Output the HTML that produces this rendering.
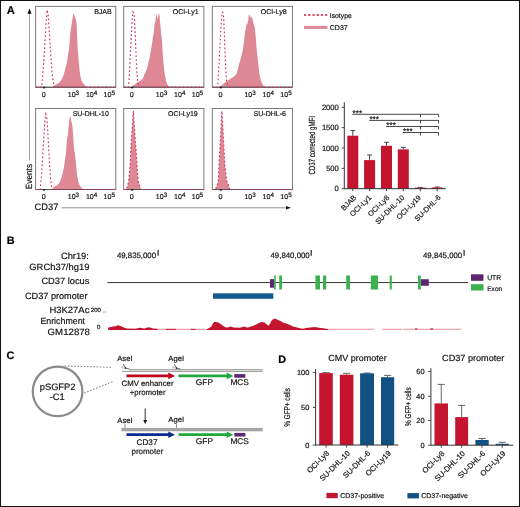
<!DOCTYPE html>
<html><head><meta charset="utf-8"><style>
html,body{margin:0;padding:0;background:#fff;}
svg{display:block;will-change:transform;}
text{font-family:"Liberation Sans",sans-serif;text-rendering:geometricPrecision;stroke:#111;stroke-width:0.18px;}
</style></head><body>
<svg width="520" height="507" viewBox="0 0 520 507">
<rect width="520" height="507" fill="#fff"/>
<text x="6.8" y="14.2" font-size="11.2" font-weight="bold" font-family="Liberation Sans, sans-serif">A</text>
<line x1="29.5" y1="13" x2="29.5" y2="160.5" stroke="#888" stroke-width="0.8"/>
<polygon points="27.4,13.8 29.5,8.6 31.6,13.8" fill="#111"/>
<text transform="translate(32.1,189.2) rotate(-90)" font-size="9" textLength="25.2" lengthAdjust="spacingAndGlyphs" font-family="Liberation Sans, sans-serif" fill="#111">Events</text>
<text x="34.6" y="210.3" font-size="9.3" font-family="Liberation Sans, sans-serif" fill="#111">CD37</text>
<line x1="61.5" y1="207.8" x2="287" y2="207.8" stroke="#777" stroke-width="0.8"/>
<polygon points="286,206.1 291,207.8 286,209.5" fill="#111"/>
<polygon points="51.8,87 54.4,85.4 58.4,83.2 61.1,80.5 63.3,76.1 64.6,71.6 66.9,62.7 68.2,53.9 69.1,48.6 69.7,41.1 70.3,32.9 71.6,24.6 72.6,17.9 73.0,14.5 73.4,13.4 73.9,14.5 74.3,15.5 75.2,17.5 76.1,20.4 76.7,24.6 77,32.9 77.3,41.1 77.6,48.6 78.2,53.9 78.8,62.7 79.7,71.6 80.3,76.1 81.5,80.5 83,83.2 85,85.4 87.3,87" fill="#de8795"/>
<rect x="35.6" y="6.4" width="80.2" height="80.8" fill="none" stroke="#7a7a7a" stroke-width="1"/>
<line x1="35.6" y1="87.2" x2="115.80000000000001" y2="87.2" stroke="#555" stroke-width="1.1"/>
<polyline points="35.6,87.2 41.5,87 42.8,75 44,58 45.2,38 46.3,20 47.2,9.9 48.3,16 49.5,35 50.7,55 52,72 53.2,82 54.5,87 115.80000000000001,87.2" fill="none" stroke="#d43258" stroke-width="1.15" stroke-dasharray="1.7,2.3"/>
<rect x="43.1" y="86.9" width="2" height="1.4" fill="#111"/>
<text x="94.2" y="13.5" font-size="7" font-family="Liberation Sans, sans-serif" fill="#111">BJAB</text>
<text x="41.7" y="96.5" font-size="7.2" font-family="Liberation Sans, sans-serif" fill="#111">0</text>
<text x="67.7" y="96.5" font-size="7.1" font-family="Liberation Sans, sans-serif" fill="#111">10<tspan font-size="6.3" dy="-1.8">3</tspan></text>
<text x="85.9" y="96.5" font-size="7.1" font-family="Liberation Sans, sans-serif" fill="#111">10<tspan font-size="6.3" dy="-1.8">4</tspan></text>
<text x="103.6" y="96.5" font-size="7.1" font-family="Liberation Sans, sans-serif" fill="#111">10<tspan font-size="6.3" dy="-1.8">5</tspan></text>
<polygon points="130.8,87 134.6,84.4 137.5,82.5 140.9,80.6 143.3,77.7 144.2,74.8 145.2,72.9 146.9,69 148.1,64.2 150.2,54.6 151.3,48.6 152.4,41.1 153.7,32.9 154.5,24.6 155.6,20.4 156.0,15 156.4,13.6 157.0,16.5 157.6,18.8 158.4,15.5 159.2,13.1 159.6,16 159.9,20.4 160.3,24.6 161.1,32.9 162,41.1 162.4,48.6 162.8,54.6 163.6,64.2 164.6,72.9 165.9,80.6 167.3,84.4 169.2,87" fill="#de8795"/>
<rect x="123.7" y="6.4" width="80.2" height="80.8" fill="none" stroke="#7a7a7a" stroke-width="1"/>
<line x1="123.7" y1="87.2" x2="203.9" y2="87.2" stroke="#555" stroke-width="1.1"/>
<polyline points="123.7,87.2 128.6,87 129.6,70 130.6,50 131.6,30 132.4,17 132.9,11.8 133.8,13 134.5,18 135.3,35 136.1,55 136.9,72 137.7,82 138.6,87 203.9,87.2" fill="none" stroke="#d43258" stroke-width="1.15" stroke-dasharray="1.7,2.3"/>
<rect x="131.2" y="86.9" width="2" height="1.4" fill="#111"/>
<text x="172.8" y="13.5" font-size="7" font-family="Liberation Sans, sans-serif" fill="#111">OCI-Ly1</text>
<text x="129.8" y="96.5" font-size="7.2" font-family="Liberation Sans, sans-serif" fill="#111">0</text>
<text x="155.8" y="96.5" font-size="7.1" font-family="Liberation Sans, sans-serif" fill="#111">10<tspan font-size="6.3" dy="-1.8">3</tspan></text>
<text x="174.0" y="96.5" font-size="7.1" font-family="Liberation Sans, sans-serif" fill="#111">10<tspan font-size="6.3" dy="-1.8">4</tspan></text>
<text x="191.7" y="96.5" font-size="7.1" font-family="Liberation Sans, sans-serif" fill="#111">10<tspan font-size="6.3" dy="-1.8">5</tspan></text>
<polygon points="218.5,87 221.3,85.4 223.7,83.5 226.5,81.5 230.4,78.7 233.75,76.7 236.6,73.8 238,69 239,64.2 240.5,59.4 242.9,49.8 243.5,45 244.1,41.1 244.9,32.9 246,27 246.6,24.6 247.3,23.7 248.3,20.4 248.6,16 249.1,14.6 249.8,15.2 250.6,17.5 251.3,17.3 252,17.9 252.6,18.5 252.8,20.4 254.9,28.3 255.7,37 256.3,45 257.3,54.6 258.3,64.2 259.4,73.8 260.4,78.7 262.1,83.5 264,86.3 265.5,87" fill="#de8795"/>
<rect x="212.3" y="6.4" width="80.2" height="80.8" fill="none" stroke="#7a7a7a" stroke-width="1"/>
<line x1="212.3" y1="87.2" x2="292.5" y2="87.2" stroke="#555" stroke-width="1.1"/>
<polyline points="212.3,87.2 217.6,87 218.6,72 219.6,52 220.6,33 221.5,19 222.3,12.2 223.1,13 223.7,18 224.4,35 225.1,55 225.9,72 226.7,82 227.8,87 292.5,87.2" fill="none" stroke="#d43258" stroke-width="1.15" stroke-dasharray="1.7,2.3"/>
<rect x="219.8" y="86.9" width="2" height="1.4" fill="#111"/>
<text x="260.8" y="13.5" font-size="7" font-family="Liberation Sans, sans-serif" fill="#111">OCI-Ly8</text>
<text x="218.4" y="96.5" font-size="7.2" font-family="Liberation Sans, sans-serif" fill="#111">0</text>
<text x="244.4" y="96.5" font-size="7.1" font-family="Liberation Sans, sans-serif" fill="#111">10<tspan font-size="6.3" dy="-1.8">3</tspan></text>
<text x="262.6" y="96.5" font-size="7.1" font-family="Liberation Sans, sans-serif" fill="#111">10<tspan font-size="6.3" dy="-1.8">4</tspan></text>
<text x="280.3" y="96.5" font-size="7.1" font-family="Liberation Sans, sans-serif" fill="#111">10<tspan font-size="6.3" dy="-1.8">5</tspan></text>
<polygon points="52.1,189.5 53.9,186.9 57.4,185.2 59.6,182.5 61.4,178 62.7,173.6 64.3,164.7 65.6,155.9 66.2,150.6 66.6,143.1 67.8,134.9 68.7,126.6 69.1,122.4 69.7,118 70.3,115.8 70.8,118 71.2,120.8 72.4,125.7 73.1,134.9 73.6,143.1 74.3,150.6 75.2,155.9 76.1,164.7 76.9,173.6 77.7,178 78.5,182.5 79.6,185.2 80.9,186.9 83.2,189.5" fill="#de8795"/>
<rect x="35.6" y="108.5" width="80.2" height="81.0" fill="none" stroke="#7a7a7a" stroke-width="1"/>
<line x1="35.6" y1="189.5" x2="115.80000000000001" y2="189.5" stroke="#555" stroke-width="1.1"/>
<polyline points="35.6,189.5 40.2,189.5 41.3,177 42.5,160 43.7,140 44.8,122 45.7,114 46.6,116 47.5,127 48.5,145 49.5,163 50.5,178 51.6,186.5 53,189.5 115.80000000000001,189.5" fill="none" stroke="#d43258" stroke-width="1.15" stroke-dasharray="1.7,2.3"/>
<rect x="43.1" y="189.2" width="2" height="1.4" fill="#111"/>
<text x="72.7" y="115.5" font-size="7" font-family="Liberation Sans, sans-serif" fill="#111">SU-DHL-10</text>
<text x="41.7" y="198.8" font-size="7.2" font-family="Liberation Sans, sans-serif" fill="#111">0</text>
<text x="67.7" y="198.8" font-size="7.1" font-family="Liberation Sans, sans-serif" fill="#111">10<tspan font-size="6.3" dy="-1.8">3</tspan></text>
<text x="85.9" y="198.8" font-size="7.1" font-family="Liberation Sans, sans-serif" fill="#111">10<tspan font-size="6.3" dy="-1.8">4</tspan></text>
<text x="103.6" y="198.8" font-size="7.1" font-family="Liberation Sans, sans-serif" fill="#111">10<tspan font-size="6.3" dy="-1.8">5</tspan></text>
<polygon points="126.5,189.5 127.6,185.8 128.8,180.8 130,166 131.3,141 132.4,125 133.4,111 134.3,125 135.4,141 137.1,166 138.2,180.8 139.6,185.8 141,189.5" fill="#de8795"/>
<rect x="123.7" y="108.5" width="80.2" height="81.0" fill="none" stroke="#7a7a7a" stroke-width="1"/>
<line x1="123.7" y1="189.5" x2="203.9" y2="189.5" stroke="#555" stroke-width="1.1"/>
<polyline points="123.7,189.5 126.5,189.5 127.6,185.8 128.8,180.8 130,166 131.3,141 132.4,125 133.4,111 134.3,125 135.4,141 137.1,166 138.2,180.8 139.6,185.8 141,189.5 203.9,189.5" fill="none" stroke="#d43258" stroke-width="1.15" stroke-dasharray="1.7,2.3"/>
<rect x="131.2" y="189.2" width="2" height="1.4" fill="#111"/>
<text x="168.0" y="115.5" font-size="7" font-family="Liberation Sans, sans-serif" fill="#111">OCI-Ly19</text>
<text x="129.8" y="198.8" font-size="7.2" font-family="Liberation Sans, sans-serif" fill="#111">0</text>
<text x="155.8" y="198.8" font-size="7.1" font-family="Liberation Sans, sans-serif" fill="#111">10<tspan font-size="6.3" dy="-1.8">3</tspan></text>
<text x="174.0" y="198.8" font-size="7.1" font-family="Liberation Sans, sans-serif" fill="#111">10<tspan font-size="6.3" dy="-1.8">4</tspan></text>
<text x="191.7" y="198.8" font-size="7.1" font-family="Liberation Sans, sans-serif" fill="#111">10<tspan font-size="6.3" dy="-1.8">5</tspan></text>
<polygon points="215.5,189.5 217,185.8 218.3,180.8 219,166 220.3,141 221.2,125 221.9,111 222.7,125 223.6,141 224.9,166 226.6,180.8 228.6,185.8 230,189.5" fill="#de8795"/>
<rect x="212.3" y="108.5" width="80.2" height="81.0" fill="none" stroke="#7a7a7a" stroke-width="1"/>
<line x1="212.3" y1="189.5" x2="292.5" y2="189.5" stroke="#555" stroke-width="1.1"/>
<polyline points="212.3,189.5 215.5,189.5 217,185.8 218.3,180.8 219,166 220.3,141 221.2,125 221.9,111 222.7,125 223.6,141 224.9,166 226.6,180.8 228.6,185.8 230,189.5 292.5,189.5" fill="none" stroke="#d43258" stroke-width="1.15" stroke-dasharray="1.7,2.3"/>
<rect x="219.8" y="189.2" width="2" height="1.4" fill="#111"/>
<text x="253.6" y="115.5" font-size="7" font-family="Liberation Sans, sans-serif" fill="#111">SU-DHL-6</text>
<text x="218.4" y="198.8" font-size="7.2" font-family="Liberation Sans, sans-serif" fill="#111">0</text>
<text x="244.4" y="198.8" font-size="7.1" font-family="Liberation Sans, sans-serif" fill="#111">10<tspan font-size="6.3" dy="-1.8">3</tspan></text>
<text x="262.6" y="198.8" font-size="7.1" font-family="Liberation Sans, sans-serif" fill="#111">10<tspan font-size="6.3" dy="-1.8">4</tspan></text>
<text x="280.3" y="198.8" font-size="7.1" font-family="Liberation Sans, sans-serif" fill="#111">10<tspan font-size="6.3" dy="-1.8">5</tspan></text>
<line x1="304" y1="15.05" x2="327.4" y2="15.05" stroke="#d85870" stroke-width="2.1" stroke-dasharray="2.3,1.9"/>
<text x="329.8" y="17.7" font-size="6.8" font-family="Liberation Sans, sans-serif" fill="#111">Isotype</text>
<rect x="304" y="25.9" width="23.5" height="3" fill="#de8795"/>
<text x="329.8" y="30.4" font-size="7" font-family="Liberation Sans, sans-serif" fill="#111">CD37</text>
<text transform="translate(314.8,145.3) rotate(-90)" font-size="8.9" text-anchor="middle" textLength="58.5" lengthAdjust="spacingAndGlyphs" font-family="Liberation Sans, sans-serif" fill="#111">CD37 corrected gMFI</text>
<line x1="341.6" y1="188.70" x2="344.3" y2="188.70" stroke="#333" stroke-width="0.9"/>
<text x="338.8" y="191.40" font-size="7.6" text-anchor="end" font-family="Liberation Sans, sans-serif" fill="#111">0</text>
<line x1="341.6" y1="168.35" x2="344.3" y2="168.35" stroke="#333" stroke-width="0.9"/>
<text x="338.8" y="171.05" font-size="7.6" text-anchor="end" font-family="Liberation Sans, sans-serif" fill="#111">500</text>
<line x1="341.6" y1="148.00" x2="344.3" y2="148.00" stroke="#333" stroke-width="0.9"/>
<text x="338.8" y="150.70" font-size="7.6" text-anchor="end" font-family="Liberation Sans, sans-serif" fill="#111">1000</text>
<line x1="341.6" y1="127.65" x2="344.3" y2="127.65" stroke="#333" stroke-width="0.9"/>
<text x="338.8" y="130.35" font-size="7.6" text-anchor="end" font-family="Liberation Sans, sans-serif" fill="#111">1500</text>
<line x1="341.6" y1="107.30" x2="344.3" y2="107.30" stroke="#333" stroke-width="0.9"/>
<text x="338.8" y="110.00" font-size="7.6" text-anchor="end" font-family="Liberation Sans, sans-serif" fill="#111">2000</text>
<line x1="352.8" y1="130.6" x2="352.8" y2="135.7" stroke="#333" stroke-width="0.9"/>
<line x1="350.40000000000003" y1="130.6" x2="355.2" y2="130.6" stroke="#333" stroke-width="0.9"/>
<rect x="347.3" y="135.7" width="11" height="53.0" fill="#c4142f"/>
<line x1="369.6" y1="155.0" x2="369.6" y2="160.1" stroke="#333" stroke-width="0.9"/>
<line x1="367.20000000000005" y1="155.0" x2="372.0" y2="155.0" stroke="#333" stroke-width="0.9"/>
<rect x="364.1" y="160.1" width="11" height="28.599999999999994" fill="#c4142f"/>
<line x1="386.5" y1="142.3" x2="386.5" y2="145.8" stroke="#333" stroke-width="0.9"/>
<line x1="384.1" y1="142.3" x2="388.9" y2="142.3" stroke="#333" stroke-width="0.9"/>
<rect x="381.0" y="145.8" width="11" height="42.89999999999998" fill="#c4142f"/>
<line x1="403.3" y1="147.4" x2="403.3" y2="149.4" stroke="#333" stroke-width="0.9"/>
<line x1="400.90000000000003" y1="147.4" x2="405.7" y2="147.4" stroke="#333" stroke-width="0.9"/>
<rect x="397.8" y="149.4" width="11" height="39.29999999999998" fill="#c4142f"/>
<line x1="420.3" y1="187.4" x2="420.3" y2="187.6" stroke="#333" stroke-width="0.9"/>
<line x1="417.90000000000003" y1="187.4" x2="422.7" y2="187.4" stroke="#333" stroke-width="0.9"/>
<rect x="414.8" y="187.6" width="11" height="1.0999999999999943" fill="#c4142f"/>
<line x1="437.2" y1="187.0" x2="437.2" y2="187.4" stroke="#333" stroke-width="0.9"/>
<line x1="434.8" y1="187.0" x2="439.59999999999997" y2="187.0" stroke="#333" stroke-width="0.9"/>
<rect x="431.7" y="187.4" width="11" height="1.299999999999983" fill="#c4142f"/>
<line x1="344.3" y1="102.3" x2="344.3" y2="189.2" stroke="#333" stroke-width="1"/>
<line x1="344.3" y1="188.7" x2="445.8" y2="188.7" stroke="#333" stroke-width="1"/>
<line x1="352.8" y1="188.7" x2="352.8" y2="191.2" stroke="#333" stroke-width="0.9"/>
<text transform="translate(356.8,198.0) rotate(-45)" font-size="7.3" text-anchor="end" font-family="Liberation Sans, sans-serif" fill="#111">BJAB</text>
<line x1="369.6" y1="188.7" x2="369.6" y2="191.2" stroke="#333" stroke-width="0.9"/>
<text transform="translate(371.8,198.0) rotate(-45)" font-size="7.3" text-anchor="end" font-family="Liberation Sans, sans-serif" fill="#111">OCI-Ly1</text>
<line x1="386.5" y1="188.7" x2="386.5" y2="191.2" stroke="#333" stroke-width="0.9"/>
<text transform="translate(389.8,198.0) rotate(-45)" font-size="7.3" text-anchor="end" font-family="Liberation Sans, sans-serif" fill="#111">OCI-Ly8</text>
<line x1="403.3" y1="188.7" x2="403.3" y2="191.2" stroke="#333" stroke-width="0.9"/>
<text transform="translate(404.8,198.0) rotate(-45)" font-size="7.3" text-anchor="end" font-family="Liberation Sans, sans-serif" fill="#111">SU-DHL-10</text>
<line x1="420.3" y1="188.7" x2="420.3" y2="191.2" stroke="#333" stroke-width="0.9"/>
<text transform="translate(421.5,198.0) rotate(-45)" font-size="7.3" text-anchor="end" font-family="Liberation Sans, sans-serif" fill="#111">OCI-Ly19</text>
<line x1="437.2" y1="188.7" x2="437.2" y2="191.2" stroke="#333" stroke-width="0.9"/>
<text transform="translate(441.2,198.0) rotate(-45)" font-size="7.3" text-anchor="end" font-family="Liberation Sans, sans-serif" fill="#111">SU-DHL-6</text>
<path d="M352.3,114.3 H438.5 V117.3 M420.5,114.3 V117.3" fill="none" stroke="#333" stroke-width="0.9"/>
<text x="352.6" y="116.0" font-size="8.2" font-family="Liberation Sans, sans-serif" fill="#111">***</text>
<path d="M369.1,120.4 H438.5 V123.4 M420.5,120.4 V123.4" fill="none" stroke="#333" stroke-width="0.9"/>
<text x="369.40000000000003" y="122.10000000000001" font-size="8.2" font-family="Liberation Sans, sans-serif" fill="#111">***</text>
<path d="M386.0,126.5 H438.5 V129.5 M420.5,126.5 V129.5" fill="none" stroke="#333" stroke-width="0.9"/>
<text x="386.3" y="128.2" font-size="8.2" font-family="Liberation Sans, sans-serif" fill="#111">***</text>
<path d="M402.8,132.5 H438.5 V135.5 M420.5,132.5 V135.5" fill="none" stroke="#333" stroke-width="0.9"/>
<text x="403.1" y="134.2" font-size="8.2" font-family="Liberation Sans, sans-serif" fill="#111">***</text>
<text x="6.7" y="243.9" font-size="10.9" font-weight="bold" font-family="Liberation Sans, sans-serif">B</text>
<text x="60.9" y="258.8" font-size="9.1" textLength="28.0" lengthAdjust="spacingAndGlyphs" font-family="Liberation Sans, sans-serif" fill="#111">Chr19:</text>
<text x="29.3" y="269.6" font-size="9.1" textLength="60.1" lengthAdjust="spacingAndGlyphs" font-family="Liberation Sans, sans-serif" fill="#111">GRCh37/hg19</text>
<text x="41.4" y="283.6" font-size="9.1" textLength="48.0" lengthAdjust="spacingAndGlyphs" font-family="Liberation Sans, sans-serif" fill="#111">CD37 locus</text>
<text x="25.0" y="298.8" font-size="9.1" textLength="62.5" lengthAdjust="spacingAndGlyphs" font-family="Liberation Sans, sans-serif" fill="#111">CD37 promoter</text>
<text x="49.5" y="312.6" font-size="9.1" textLength="39.9" lengthAdjust="spacingAndGlyphs" font-family="Liberation Sans, sans-serif" fill="#111">H3K27Ac</text>
<text x="40.4" y="323.9" font-size="9.1" textLength="44.6" lengthAdjust="spacingAndGlyphs" font-family="Liberation Sans, sans-serif" fill="#111">Enrichment</text>
<text x="47.6" y="335.3" font-size="9.1" textLength="42.4" lengthAdjust="spacingAndGlyphs" font-family="Liberation Sans, sans-serif" fill="#111">GM12878</text>
<text x="90.8" y="311.5" font-size="6" font-family="Liberation Sans, sans-serif" fill="#111">200</text>
<line x1="102.6" y1="312.0" x2="106" y2="312.0" stroke="#999" stroke-width="0.8"/>
<text x="97" y="328.5" font-size="6" font-family="Liberation Sans, sans-serif" fill="#111">0</text>
<text x="116.9" y="257.6" font-size="7.8" textLength="39.2" lengthAdjust="spacingAndGlyphs" font-family="Liberation Sans, sans-serif" fill="#111">49,835,000</text>
<line x1="158.10000000000002" y1="250.0" x2="158.10000000000002" y2="255.8" stroke="#333" stroke-width="1.3"/>
<text x="270.5" y="258.3" font-size="7.8" textLength="39.2" lengthAdjust="spacingAndGlyphs" font-family="Liberation Sans, sans-serif" fill="#111">49,840,000</text>
<line x1="311.2" y1="250.0" x2="311.2" y2="255.8" stroke="#333" stroke-width="1.3"/>
<text x="423.0" y="257.8" font-size="7.8" textLength="39.2" lengthAdjust="spacingAndGlyphs" font-family="Liberation Sans, sans-serif" fill="#111">49,845,000</text>
<line x1="464.1" y1="250.0" x2="464.1" y2="255.8" stroke="#333" stroke-width="1.3"/>
<line x1="107.4" y1="282.6" x2="468.1" y2="282.6" stroke="#333" stroke-width="1"/>
<rect x="270" y="279.1" width="4.2" height="8.6" fill="#5c2770"/>
<rect x="420.8" y="279.2" width="8" height="6.6" fill="#5c2770"/>
<rect x="274.2" y="275.5" width="1.6" height="14" fill="#3bb24e"/>
<rect x="279.2" y="275.5" width="2.8" height="14" fill="#3bb24e"/>
<rect x="315.4" y="275.5" width="4.6" height="14" fill="#3bb24e"/>
<rect x="323" y="275.5" width="3.2" height="14" fill="#3bb24e"/>
<rect x="346.2" y="275.5" width="3.8" height="14" fill="#3bb24e"/>
<rect x="370.8" y="275.5" width="7.2" height="14" fill="#3bb24e"/>
<rect x="389.7" y="275.5" width="2.1" height="14" fill="#3bb24e"/>
<rect x="418" y="275.5" width="2.8" height="14" fill="#3bb24e"/>
<rect x="471" y="274.3" width="12.5" height="6.5" fill="#5c2770"/>
<rect x="471" y="284.2" width="12.5" height="6.3" fill="#3bb24e"/>
<text x="487.2" y="280.4" font-size="6.8" font-family="Liberation Sans, sans-serif" fill="#111">UTR</text>
<text x="487.2" y="290.5" font-size="6.6" font-family="Liberation Sans, sans-serif" fill="#111">Exon</text>
<rect x="213" y="293.3" width="60.3" height="5.5" fill="#155a8c"/>
<polygon points="108.1,329.9 108.1,328.5 108.8,327.3 111.2,326.9 112.7,326.5 114.2,326.2 115,326.5 116.5,325.8 118.5,325.2 119.6,325.8 121.2,326.2 122.7,326.9 125,328 127,328.6 135,328.7 137.5,328.3 140.4,327.8 142.5,328.3 144.5,328.6 146.5,327.8 149,327.3 151,327.8 153,328.5 157.7,328.7 157.7,329.9" fill="#c4142f"/>
<polygon points="165.4,329.9 165.4,328.8 176,328.8 176,329.9" fill="#c4142f"/>
<polygon points="190.4,329.9 190.4,328.8 195.8,328.8 195.8,329.9" fill="#c4142f"/>
<polygon points="205.8,329.9 206,329.5 208.6,328.3 211.5,326.4 213,323.3 214.4,322.1 216.3,321.9 218.3,322.6 220.2,323.7 222.1,325 224,326.4 226,327.6 228.8,327.2 230.7,326.6 233.6,327.6 240,327.7 244,326.6 247,327.4 248,327.4 251,326.4 254,325.5 257,324 260,322.6 262,321.9 264.4,322.4 266.3,324 268.2,325.7 270,324 271,321.4 273,319.2 275,318.5 277,319.5 280,320.8 283,322.4 287,323.7 290,325 293,326.4 296,327.2 300,328.3 303,328.8 306,327.9 310,327.4 315,327.1 319,327.7 323,328.3 328,329 328,329.9" fill="#c4142f"/>
<line x1="157.7" y1="329.29999999999995" x2="165.4" y2="329.29999999999995" stroke="#e8919f" stroke-width="1.1"/>
<line x1="176" y1="329.29999999999995" x2="190.4" y2="329.29999999999995" stroke="#e8919f" stroke-width="1.1"/>
<line x1="195.8" y1="329.29999999999995" x2="205.4" y2="329.29999999999995" stroke="#e8919f" stroke-width="1.1"/>
<line x1="328" y1="329.29999999999995" x2="374.2" y2="329.29999999999995" stroke="#e8919f" stroke-width="1.1"/>
<line x1="382.5" y1="329.29999999999995" x2="401.7" y2="329.29999999999995" stroke="#e8919f" stroke-width="1.1"/>
<line x1="403" y1="329.29999999999995" x2="461.3" y2="329.29999999999995" stroke="#e8919f" stroke-width="1.1"/>
<rect x="415" y="328.5" width="2.4" height="1.1" fill="#c4142f"/>
<rect x="430.2" y="328.5" width="2.8" height="1.1" fill="#c4142f"/>
<text x="6.4" y="359.0" font-size="10.9" font-weight="bold" font-family="Liberation Sans, sans-serif">C</text>
<circle cx="57.6" cy="391.4" r="24.8" fill="none" stroke="#8a8a8a" stroke-width="2.2"/>
<text x="57.6" y="389.6" font-size="9.3" text-anchor="middle" font-family="Liberation Sans, sans-serif" fill="#111">pSGFP2</text>
<text x="57.2" y="399.5" font-size="9.3" text-anchor="middle" font-family="Liberation Sans, sans-serif" fill="#111">-C1</text>
<line x1="64.6" y1="366" x2="111" y2="367.3" stroke="#555" stroke-width="0.8" stroke-dasharray="1.6,1.6"/>
<line x1="84.2" y1="393" x2="113" y2="381.5" stroke="#555" stroke-width="0.8" stroke-dasharray="1.6,1.6"/>
<rect x="129" y="369.1" width="133.7" height="2.9" fill="#e0e0e0"/>
<line x1="129" y1="369.6" x2="262.7" y2="369.6" stroke="#999" stroke-width="0.9"/>
<line x1="121.8" y1="371.5" x2="262.7" y2="371.5" stroke="#999" stroke-width="0.9"/>
<polygon points="126.5,374.5 168.3,374.5 168.3,372.59999999999997 175,375.9 168.3,379.2 168.3,377.29999999999995 126.5,377.29999999999995" fill="#c0031f"/>
<polygon points="178.5,374.5 226.70000000000002,374.5 226.70000000000002,372.59999999999997 233.4,375.9 226.70000000000002,379.2 226.70000000000002,377.29999999999995 178.5,377.29999999999995" fill="#22a83a"/>
<rect x="234.3" y="374.09999999999997" width="11.1" height="3.6" fill="#5c2770"/>
<rect x="121.5" y="428.09999999999997" width="141.2" height="3.0" fill="#a8a8a8"/>
<line x1="121.5" y1="428.4" x2="262.7" y2="428.4" stroke="#999" stroke-width="0.6"/>
<line x1="121.5" y1="430.8" x2="262.7" y2="430.8" stroke="#999" stroke-width="0.6"/>
<polygon points="126.5,433.3 168.3,433.3 168.3,431.4 175,434.7 168.3,438.0 168.3,436.09999999999997 126.5,436.09999999999997" fill="#0a2a8e"/>
<polygon points="178.5,433.3 226.70000000000002,433.3 226.70000000000002,431.4 233.4,434.7 226.70000000000002,438.0 226.70000000000002,436.09999999999997 178.5,436.09999999999997" fill="#22a83a"/>
<rect x="234.3" y="432.9" width="11.1" height="3.6" fill="#5c2770"/>
<text x="117.2" y="360.8" font-size="7.7" font-family="Liberation Sans, sans-serif" fill="#111">AseI</text>
<text x="168.3" y="360.8" font-size="7.7" font-family="Liberation Sans, sans-serif" fill="#111">AgeI</text>
<text x="117.3" y="422.9" font-size="7.7" font-family="Liberation Sans, sans-serif" fill="#111">AseI</text>
<text x="168.3" y="421.9" font-size="7.7" font-family="Liberation Sans, sans-serif" fill="#111">AgeI</text>
<path d="M123.2,363.9 L125.6,368.3 L129.5,368.9" stroke="#444" stroke-width="0.75" fill="none"/>
<circle cx="122.4" cy="367.2" r="0.9" fill="none" stroke="#999" stroke-width="0.6"/>
<circle cx="125.4" cy="368.0" r="0.85" fill="#111"/>
<path d="M174.2,363.9 L176.6,368.3 L180.5,368.9" stroke="#444" stroke-width="0.75" fill="none"/>
<circle cx="173.4" cy="367.2" r="0.9" fill="none" stroke="#999" stroke-width="0.6"/>
<circle cx="176.4" cy="368.0" r="0.85" fill="#111"/>
<line x1="125" y1="424.3" x2="125" y2="427.8" stroke="#555" stroke-width="0.7"/>
<line x1="176.5" y1="424.3" x2="176.5" y2="427.8" stroke="#555" stroke-width="0.7"/>
<line x1="145.2" y1="408.5" x2="145.2" y2="421" stroke="#111" stroke-width="0.9"/>
<polygon points="143.3,420 147.1,420 145.2,424" fill="#111"/>
<text x="121.5" y="385.8" font-size="7.8" font-family="Liberation Sans, sans-serif" fill="#111">CMV enhancer</text>
<text x="129.8" y="394.8" font-size="7.8" font-family="Liberation Sans, sans-serif" fill="#111">+promoter</text>
<text x="195.8" y="385.4" font-size="8.4" font-family="Liberation Sans, sans-serif" fill="#111">GFP</text>
<text x="230.4" y="385.4" font-size="8.3" font-family="Liberation Sans, sans-serif" fill="#111">MCS</text>
<text x="195.8" y="444.3" font-size="8.4" font-family="Liberation Sans, sans-serif" fill="#111">GFP</text>
<text x="230.4" y="444.3" font-size="8.3" font-family="Liberation Sans, sans-serif" fill="#111">MCS</text>
<text x="136.5" y="444.6" font-size="8.2" font-family="Liberation Sans, sans-serif" fill="#111">CD37</text>
<text x="131.5" y="453.9" font-size="8.0" textLength="31.8" lengthAdjust="spacingAndGlyphs" font-family="Liberation Sans, sans-serif" fill="#111">promoter</text>
<text x="278.2" y="362.9" font-size="10.8" font-weight="bold" font-family="Liberation Sans, sans-serif">D</text>
<text x="328.2" y="361.4" font-size="8.9" textLength="58.5" lengthAdjust="spacingAndGlyphs" font-family="Liberation Sans, sans-serif" fill="#111">CMV promoter</text>
<text transform="translate(290.4,407.4) rotate(-90)" font-size="8.5" text-anchor="middle" textLength="38.6" lengthAdjust="spacingAndGlyphs" font-family="Liberation Sans, sans-serif" fill="#111">% GFP+ cells</text>
<line x1="312.8" y1="372.4" x2="315.6" y2="372.4" stroke="#333" stroke-width="0.9"/>
<text x="309.3" y="375.00" font-size="7.4" text-anchor="end" font-family="Liberation Sans, sans-serif" fill="#111">100</text>
<line x1="312.8" y1="407.4" x2="315.6" y2="407.4" stroke="#333" stroke-width="0.9"/>
<text x="309.3" y="410.00" font-size="7.4" text-anchor="end" font-family="Liberation Sans, sans-serif" fill="#111">50</text>
<line x1="312.8" y1="445.0" x2="315.6" y2="445.0" stroke="#333" stroke-width="0.9"/>
<text x="309.3" y="447.60" font-size="7.4" text-anchor="end" font-family="Liberation Sans, sans-serif" fill="#111">0</text>
<line x1="326.0" y1="372.6" x2="326.0" y2="373.1" stroke="#555" stroke-width="0.9"/>
<line x1="322.4" y1="372.6" x2="329.6" y2="372.6" stroke="#555" stroke-width="0.9"/>
<rect x="319.2" y="373.1" width="13.60" height="71.90" fill="#c4142f"/>
<line x1="326.0" y1="445.0" x2="326.0" y2="447.6" stroke="#333" stroke-width="0.9"/>
<text transform="translate(329.8,453.8) rotate(-45)" font-size="7.6" text-anchor="end" font-family="Liberation Sans, sans-serif" fill="#111">OCI-Ly8</text>
<line x1="346.6" y1="373.3" x2="346.6" y2="374.7" stroke="#555" stroke-width="0.9"/>
<line x1="343.0" y1="373.3" x2="350.20000000000005" y2="373.3" stroke="#555" stroke-width="0.9"/>
<rect x="339.8" y="374.7" width="13.60" height="70.30" fill="#c4142f"/>
<line x1="346.6" y1="445.0" x2="346.6" y2="447.6" stroke="#333" stroke-width="0.9"/>
<text transform="translate(350.40000000000003,453.8) rotate(-45)" font-size="7.6" text-anchor="end" font-family="Liberation Sans, sans-serif" fill="#111">SU-DHL-10</text>
<line x1="367.05" y1="373.0" x2="367.05" y2="373.3" stroke="#555" stroke-width="0.9"/>
<line x1="363.45" y1="373.0" x2="370.65000000000003" y2="373.0" stroke="#555" stroke-width="0.9"/>
<rect x="360.1" y="373.3" width="13.90" height="71.70" fill="#115282"/>
<line x1="367.05" y1="445.0" x2="367.05" y2="447.6" stroke="#333" stroke-width="0.9"/>
<text transform="translate(370.85,453.8) rotate(-45)" font-size="7.6" text-anchor="end" font-family="Liberation Sans, sans-serif" fill="#111">SU-DHL-6</text>
<line x1="387.6" y1="375.4" x2="387.6" y2="377.2" stroke="#555" stroke-width="0.9"/>
<line x1="384.0" y1="375.4" x2="391.20000000000005" y2="375.4" stroke="#555" stroke-width="0.9"/>
<rect x="381.0" y="377.2" width="13.20" height="67.80" fill="#115282"/>
<line x1="387.6" y1="445.0" x2="387.6" y2="447.6" stroke="#333" stroke-width="0.9"/>
<text transform="translate(391.40000000000003,453.8) rotate(-45)" font-size="7.6" text-anchor="end" font-family="Liberation Sans, sans-serif" fill="#111">OCI-Ly19</text>
<line x1="315.6" y1="369.0" x2="315.6" y2="445.5" stroke="#333" stroke-width="1"/>
<line x1="315.6" y1="445.0" x2="398.3" y2="445.0" stroke="#333" stroke-width="1"/>
<text x="442.09999999999997" y="361.4" font-size="8.9" textLength="62.3" lengthAdjust="spacingAndGlyphs" font-family="Liberation Sans, sans-serif" fill="#111">CD37 promoter</text>
<text transform="translate(411.0,406.6) rotate(-90)" font-size="8.5" text-anchor="middle" textLength="38.6" lengthAdjust="spacingAndGlyphs" font-family="Liberation Sans, sans-serif" fill="#111">% GFP+ cells</text>
<line x1="428.09999999999997" y1="371.5" x2="430.9" y2="371.5" stroke="#333" stroke-width="0.9"/>
<text x="424.59999999999997" y="374.10" font-size="7.4" text-anchor="end" font-family="Liberation Sans, sans-serif" fill="#111">60</text>
<line x1="428.09999999999997" y1="396.3" x2="430.9" y2="396.3" stroke="#333" stroke-width="0.9"/>
<text x="424.59999999999997" y="398.90" font-size="7.4" text-anchor="end" font-family="Liberation Sans, sans-serif" fill="#111">40</text>
<line x1="428.09999999999997" y1="420.4" x2="430.9" y2="420.4" stroke="#333" stroke-width="0.9"/>
<text x="424.59999999999997" y="423.00" font-size="7.4" text-anchor="end" font-family="Liberation Sans, sans-serif" fill="#111">20</text>
<line x1="428.09999999999997" y1="445.2" x2="430.9" y2="445.2" stroke="#333" stroke-width="0.9"/>
<text x="424.59999999999997" y="447.80" font-size="7.4" text-anchor="end" font-family="Liberation Sans, sans-serif" fill="#111">0</text>
<line x1="441.25" y1="384.4" x2="441.25" y2="403.4" stroke="#555" stroke-width="0.9"/>
<line x1="437.65" y1="384.4" x2="444.85" y2="384.4" stroke="#555" stroke-width="0.9"/>
<rect x="434.5" y="403.4" width="13.50" height="41.80" fill="#c4142f"/>
<line x1="441.25" y1="445.2" x2="441.25" y2="447.8" stroke="#333" stroke-width="0.9"/>
<text transform="translate(445.05,454.0) rotate(-45)" font-size="7.6" text-anchor="end" font-family="Liberation Sans, sans-serif" fill="#111">OCI-Ly8</text>
<line x1="461.65" y1="405.4" x2="461.65" y2="417.1" stroke="#555" stroke-width="0.9"/>
<line x1="458.04999999999995" y1="405.4" x2="465.25" y2="405.4" stroke="#555" stroke-width="0.9"/>
<rect x="455.2" y="417.1" width="12.90" height="28.10" fill="#c4142f"/>
<line x1="461.65" y1="445.2" x2="461.65" y2="447.8" stroke="#333" stroke-width="0.9"/>
<text transform="translate(465.45,454.0) rotate(-45)" font-size="7.6" text-anchor="end" font-family="Liberation Sans, sans-serif" fill="#111">SU-DHL-10</text>
<line x1="482.04999999999995" y1="438.5" x2="482.04999999999995" y2="440.0" stroke="#555" stroke-width="0.9"/>
<line x1="478.44999999999993" y1="438.5" x2="485.65" y2="438.5" stroke="#555" stroke-width="0.9"/>
<rect x="475.4" y="440.0" width="13.30" height="5.20" fill="#115282"/>
<line x1="482.04999999999995" y1="445.2" x2="482.04999999999995" y2="447.8" stroke="#333" stroke-width="0.9"/>
<text transform="translate(485.84999999999997,454.0) rotate(-45)" font-size="7.6" text-anchor="end" font-family="Liberation Sans, sans-serif" fill="#111">SU-DHL-6</text>
<line x1="502.20000000000005" y1="442.3" x2="502.20000000000005" y2="443.8" stroke="#555" stroke-width="0.9"/>
<line x1="498.6" y1="442.3" x2="505.80000000000007" y2="442.3" stroke="#555" stroke-width="0.9"/>
<rect x="495.6" y="443.8" width="13.20" height="1.40" fill="#115282"/>
<line x1="502.20000000000005" y1="445.2" x2="502.20000000000005" y2="447.8" stroke="#333" stroke-width="0.9"/>
<text transform="translate(506.00000000000006,454.0) rotate(-45)" font-size="7.6" text-anchor="end" font-family="Liberation Sans, sans-serif" fill="#111">OCI-Ly19</text>
<line x1="430.9" y1="368.2" x2="430.9" y2="445.7" stroke="#333" stroke-width="1"/>
<line x1="430.9" y1="445.2" x2="513.3" y2="445.2" stroke="#333" stroke-width="1"/>
<rect x="326.4" y="492.9" width="11.3" height="5.3" fill="#c4142f"/>
<text x="340.2" y="497.9" font-size="7" font-family="Liberation Sans, sans-serif" fill="#111">CD37-positive</text>
<rect x="407.4" y="493.1" width="11.5" height="5.3" fill="#115282"/>
<text x="421.2" y="497.9" font-size="7" font-family="Liberation Sans, sans-serif" fill="#111">CD37-negative</text>
<rect x="0.5" y="0.5" width="519" height="506" fill="none" stroke="#111" stroke-width="1"/>
</svg>
</body></html>
